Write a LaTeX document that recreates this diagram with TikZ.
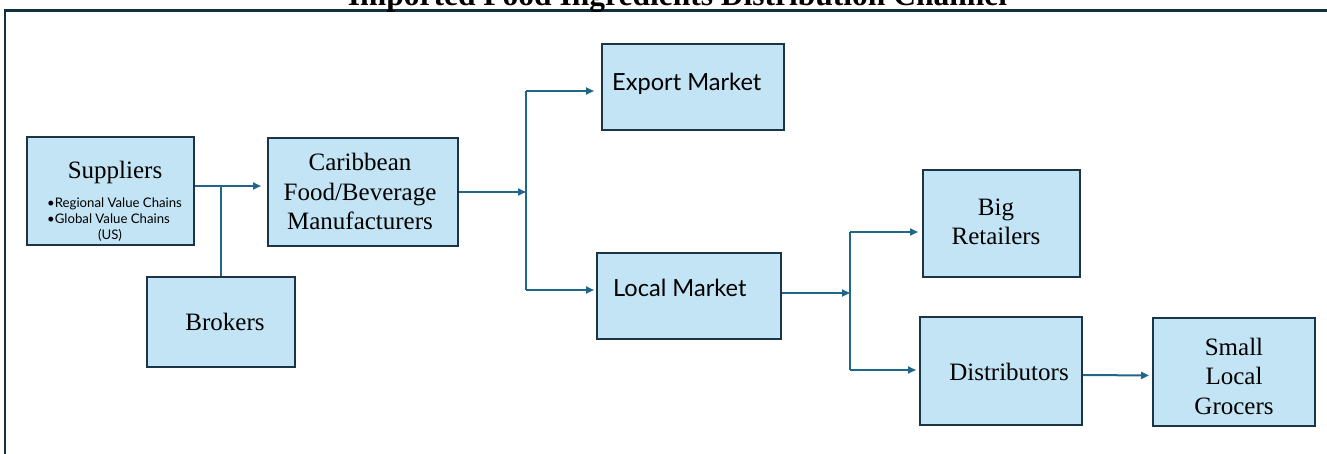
\documentclass[tikz,border=0pt]{standalone}
\usepackage{fontspec}
\setmainfont{Liberation Serif}
\setsansfont{Lato}
\usetikzlibrary{arrows.meta}
\definecolor{boxfill}{HTML}{C3E4F4}
\definecolor{boxline}{HTML}{1C3544}
\definecolor{arrowblue}{HTML}{1F6688}
\definecolor{framenavy}{HTML}{12303F}

\begin{document}
\begin{tikzpicture}[
  x=1pt, y=-1pt,
  box/.style={rectangle,draw=boxline,line width=2pt,fill=boxfill,inner sep=0pt},
  txt/.style={inner sep=0pt,anchor=base,align=center,font=\fontsize{25}{29.5}\selectfont},
  sans/.style={inner sep=0pt,anchor=base west,font=\sffamily\fontsize{23.6}{28}\selectfont},
  smalltxt/.style={inner sep=0pt,anchor=base west,font=\sffamily\fontsize{13.2}{16}\selectfont},
  link/.style={draw=arrowblue,line width=2pt},
  arrow/.style={link,-{Triangle[length=8pt,width=7pt]}}
]
\useasboundingbox (0,0) rectangle (1327,454);

% frame and title
\draw[framenavy,line width=2.5pt] (1327,10.5) -- (5,10.5) -- (5,454);
\node[inner sep=0pt,anchor=base,font=\bfseries\fontsize{31.5}{36}\selectfont] (title) at (677.5,6)
  {Imported Food Ingredients Distribution Channel};

% boxes
\node[box,minimum width=167pt,minimum height=108pt] (sup) at (110.5,191) {};
\node[box,minimum width=148pt,minimum height=90pt] (bro) at (221,322) {};
\node[box,minimum width=190pt,minimum height=108pt] (car) at (363,192) {};
\node[box,minimum width=182pt,minimum height=86pt] (exp) at (693,87) {};
\node[box,minimum width=184pt,minimum height=86pt] (loc) at (689,296) {};
\node[box,minimum width=157pt,minimum height=107pt] (big) at (1001.5,223.5) {};
\node[box,minimum width=162pt,minimum height=108pt] (dis) at (1001,371) {};
\node[box,minimum width=162pt,minimum height=108pt] (gro) at (1234,371.5) {};

% texts (multi-line ones sit on their last baseline)
\node[txt] (supT) at (115,179) {Suppliers};
\node[smalltxt] (supA) at (47,208) {•Regional Value Chains};
\node[smalltxt] (supB) at (47,224) {•Global Value Chains};
\node[smalltxt,anchor=base] (supC) at (110,240) {(US)};
\node[txt] (carT) at (360,230) {Caribbean\\Food/Beverage\\Manufacturers};
\node[txt] (broT) at (225,330) {Brokers};
\node[sans] (expT) at (612,91) {Export Market};
\node[sans] (locT) at (613,296) {Local Market};
\node[txt] (bigT) at (996,245) {Big\\Retailers};
\node[txt] (disT) at (1009,380) {Distributors};
\node[txt] (groT) at (1234,414) {Small\\Local\\Grocers};

% junctions
\coordinate (sj) at (221,186);
\coordinate (cj) at (526,192);
\coordinate (cjt) at (526,91);
\coordinate (cjb) at (526,290);
\coordinate (lj) at (850,293);
\coordinate (ljt) at (850,232);
\coordinate (ljb) at (850,370);

\draw[arrow,shorten >=6pt] ([yshift=5pt]sup.east) -- ([yshift=6pt]car.west);
\draw[link] (bro.north) -- (sj);

\draw[arrow] (car.east) -- (cj);
\draw[link] (cjt) -- (cjb);
\draw[arrow,shorten >=7pt] (cjt) -- (cjt -| exp.west);
\draw[arrow,shorten >=2pt] (cjb) -- (cjb -| loc.west);

\draw[arrow] (loc.east |- lj) -- (lj);
\draw[link] (ljt) -- (ljb);
\draw[arrow,shorten >=4pt] (ljt) -- (ljt -| big.west);
\draw[arrow,shorten >=3pt] (ljb) -- (ljb -| dis.west);

\draw[arrow,shorten >=3pt] ([yshift=-4pt]dis.east) -- ([yshift=-4pt]gro.west);
\end{tikzpicture}
\end{document}
